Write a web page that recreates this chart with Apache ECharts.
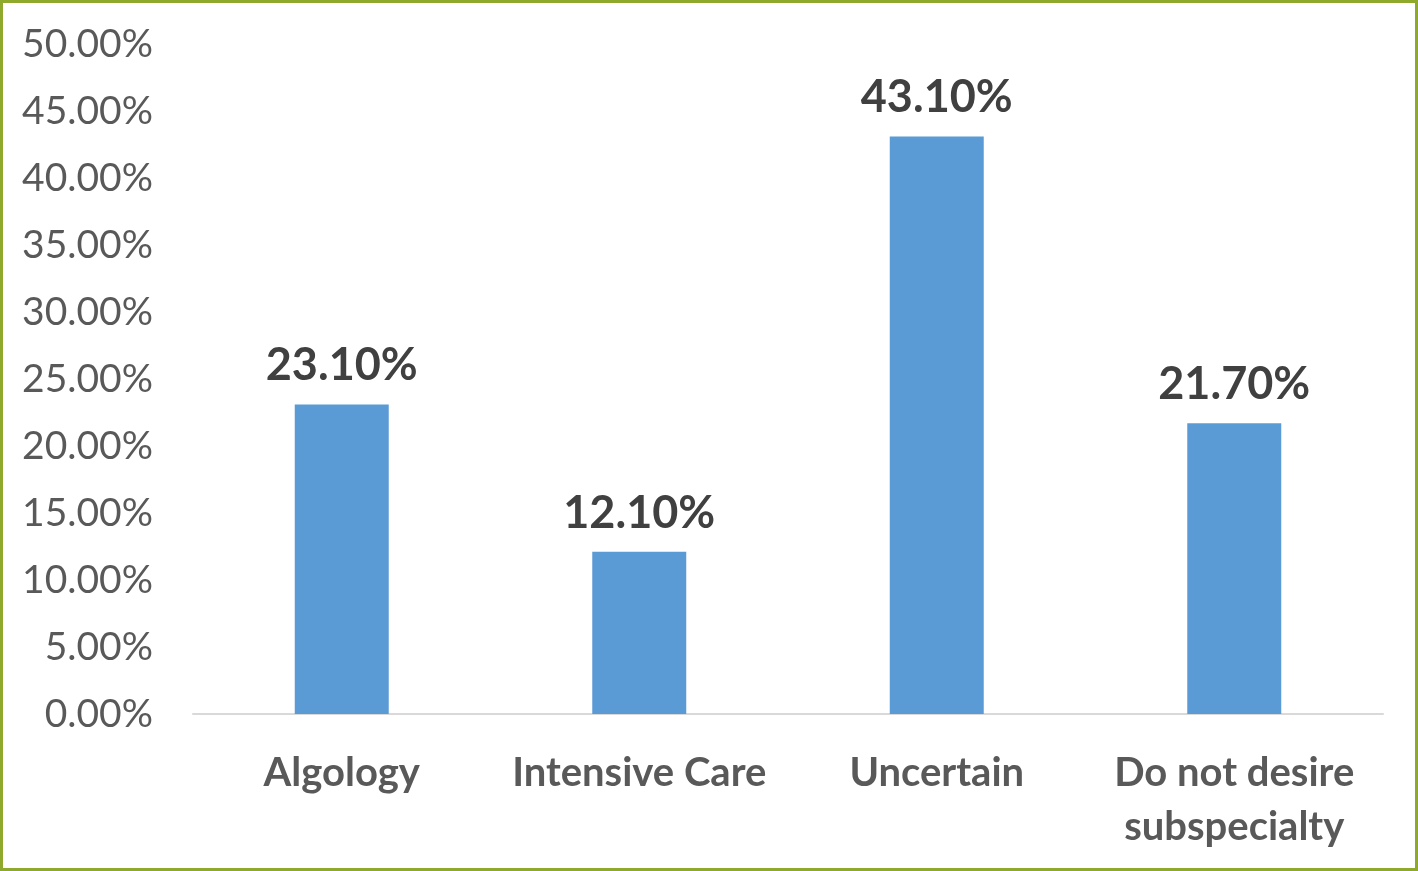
<!DOCTYPE html>
<html>
<head>
<meta charset="utf-8">
<script src="https://cdn.jsdelivr.net/npm/echarts@6/dist/echarts.min.js"></script>
<style>
html,body{margin:0;padding:0;background:#fff;}
#wrap{position:absolute;left:0;top:0;width:1418px;height:871px;box-sizing:border-box;border:3px solid #8fa92c;}
#chart{position:absolute;left:0;top:0;width:1418px;height:871px;}
</style>
</head>
<body>
<div id="chart"></div>
<div id="wrap"></div>
<script>
const categories = ['Algology', 'Intensive Care', 'Uncertain', 'Do not desire\nsubspecialty'];
const values = [23.1, 12.1, 43.1, 21.7];
const yTicks = { min: 0, max: 50, interval: 5 };

const chart = echarts.init(document.getElementById('chart'), null, { renderer: 'canvas' });
chart.setOption({
  animation: false,
  backgroundColor: '#ffffff',
  grid: { left: 193, right: 35, top: 44, bottom: 157, containLabel: false },
  xAxis: {
    type: 'category',
    data: categories,
    axisLine: { lineStyle: { color: '#d9d9d9', width: 2 } },
    axisTick: { show: false },
    axisLabel: {
      color: '#595959', fontFamily: 'Lato', fontWeight: 'bold', fontSize: 40,
      margin: 32, lineHeight: 54, interval: 0
    }
  },
  yAxis: {
    type: 'value',
    min: yTicks.min, max: yTicks.max, interval: yTicks.interval,
    splitLine: { show: false },
    axisLine: { show: false },
    axisTick: { show: false },
    axisLabel: {
      color: '#595959', fontFamily: 'Lato', fontSize: 39, margin: 40,
      formatter: v => v.toFixed(2) + '%'
    }
  },
  series: [{
    type: 'bar',
    data: values,
    barWidth: 94,
    itemStyle: { color: '#5b9bd5' },
    label: {
      show: true, position: 'top', distance: 16,
      color: '#404040', fontFamily: 'Lato', fontWeight: 'bold', fontSize: 45,
      formatter: p => p.value.toFixed(2) + '%'
    }
  }]
});
</script>
</body>
</html>
